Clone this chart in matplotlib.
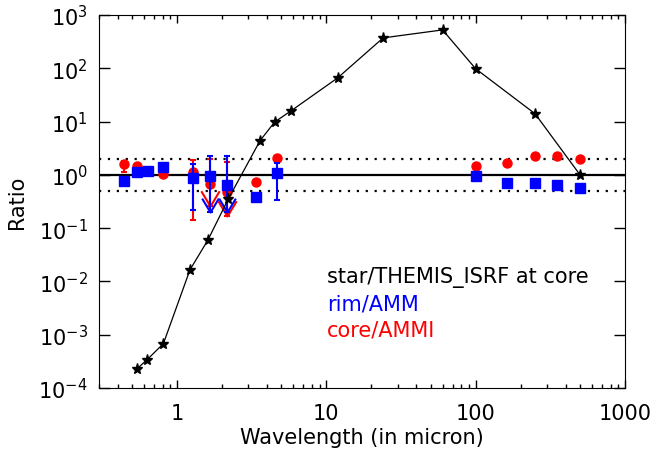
import numpy as np
import matplotlib
matplotlib.use("Agg")
import matplotlib.pyplot as plt
from matplotlib.path import Path
from matplotlib.ticker import FixedLocator, NullLocator, LogLocator, NullFormatter

# star / THEMIS_ISRF at core
star_wl = [0.54, 0.63, 0.81, 1.22, 1.61, 2.2, 3.6, 4.5, 5.8, 11.9, 24, 60, 100, 250, 500]
star_ratio = [2.3e-4, 3.4e-4, 6.8e-4, 0.0165, 0.06, 0.35, 4.4, 9.8, 15.9, 66, 372, 525, 98, 14, 1.0]

# rim/AMM (blue squares)
rim_wl = [0.44, 0.54, 0.64, 0.81, 1.27, 1.66, 2.16, 3.37, 4.67, 100, 161, 251, 350, 500]
rim_ratio = [0.76, 1.14, 1.19, 1.41, 0.88, 0.96, 0.65, 0.39, 1.09, 0.96, 0.71, 0.71, 0.65, 0.57]
rim_lo = [0.76, 1.14, 1.19, 1.41, 0.22, 0.20, 0.20, 0.36, 0.34, 0.96, 0.71, 0.71, 0.65, 0.57]
rim_hi = [0.76, 1.14, 1.19, 1.41, 1.61, 2.27, 2.27, 0.42, 1.68, 0.96, 0.71, 0.71, 0.65, 0.57]

# core/AMMI (red circles)
core_wl = [0.44, 0.54, 0.64, 0.81, 1.27, 1.66, 2.16, 3.37, 4.67, 100, 161, 251, 350, 500]
core_ratio = [1.61, 1.47, 1.19, 1.04, 1.14, 0.68, 0.48, 0.74, 2.08, 1.47, 1.68, 2.27, 2.27, 2.0]
core_lo = [1.14, 1.47, 1.19, 1.04, 0.145, 0.26, 0.17, 0.74, 2.08, 1.47, 1.68, 2.27, 2.27, 2.0]
core_hi = [1.85, 1.47, 1.19, 1.04, 1.94, 2.0, 1.75, 0.74, 2.08, 1.47, 1.68, 2.27, 2.27, 2.0]

# upper limits (arrow tips)
lim_wl = [1.66, 2.16]
rim_lim = [0.20, 0.20]
core_lim = [0.26, 0.17]

fig = plt.figure(figsize=(6.53, 4.52), dpi=100)
ax = fig.add_axes([0.1516, 0.1394, 0.8055, 0.8252])
ax.set_xscale("log")
ax.set_yscale("log")
ax.set_xlim(0.3, 1000)
ax.set_ylim(1e-4, 1e3)

ax.axhline(1.0, color="black", lw=1.6, zorder=1)
ax.axhline(2.0, color="black", lw=1.6, ls=(0, (1, 3)), zorder=1)
ax.axhline(0.5, color="black", lw=1.6, ls=(0, (1, 3)), zorder=1)

vmark = Path([(-9, 15), (0, 0), (9, 15)], [Path.MOVETO, Path.LINETO, Path.LINETO])

cr = np.array(core_ratio)
ax.errorbar(core_wl, cr, yerr=[cr - np.array(core_lo), np.array(core_hi) - cr],
            fmt="o", color="red", ms=6.5, elinewidth=1.5, capsize=2.5, capthick=1.5, zorder=3)
ax.plot(lim_wl, core_lim, ls="none", marker=vmark, ms=22, mfc="none", mec="red", mew=1.5, zorder=3)

rr = np.array(rim_ratio)
ax.errorbar(rim_wl, rr, yerr=[rr - np.array(rim_lo), np.array(rim_hi) - rr],
            fmt="s", color="blue", ms=7, elinewidth=1.5, capsize=2.5, capthick=1.5, zorder=4)
ax.plot(lim_wl, rim_lim, ls="none", marker=vmark, ms=20, mfc="none", mec="blue", mew=1.5, zorder=4)

ax.plot(star_wl, star_ratio, color="black", lw=0.9, marker="*", ms=8, zorder=5)

ax.xaxis.set_major_locator(FixedLocator([1, 10, 100, 1000]))
ax.set_xticklabels(["1", "10", "100", "1000"])
ax.xaxis.set_minor_locator(LogLocator(base=10, subs=np.arange(2, 10)))
ax.xaxis.set_minor_formatter(NullFormatter())
ax.yaxis.set_major_locator(FixedLocator([10.0 ** k for k in range(-4, 4)]))
ax.yaxis.set_minor_locator(NullLocator())

ax.tick_params(which="both", direction="in", top=True, right=True, labelsize=15, width=1)
ax.tick_params(axis="x", which="major", length=5.5, pad=11)
ax.tick_params(axis="x", which="minor", length=3)
ax.tick_params(axis="y", which="major", length=8, pad=8)

ax.set_xlabel("Wavelength (in micron)", fontsize=15, labelpad=3)
ax.set_ylabel("Ratio", fontsize=15, labelpad=8)

ax.text(0.4335, 0.283, "star/THEMIS_ISRF at core", transform=ax.transAxes, fontsize=15, color="black", va="baseline")
ax.text(0.4335, 0.210, "rim/AMM", transform=ax.transAxes, fontsize=15, color="blue", va="baseline")
ax.text(0.4335, 0.140, "core/AMMI", transform=ax.transAxes, fontsize=15, color="red", va="baseline")

fig.savefig("out.png", dpi=100)
